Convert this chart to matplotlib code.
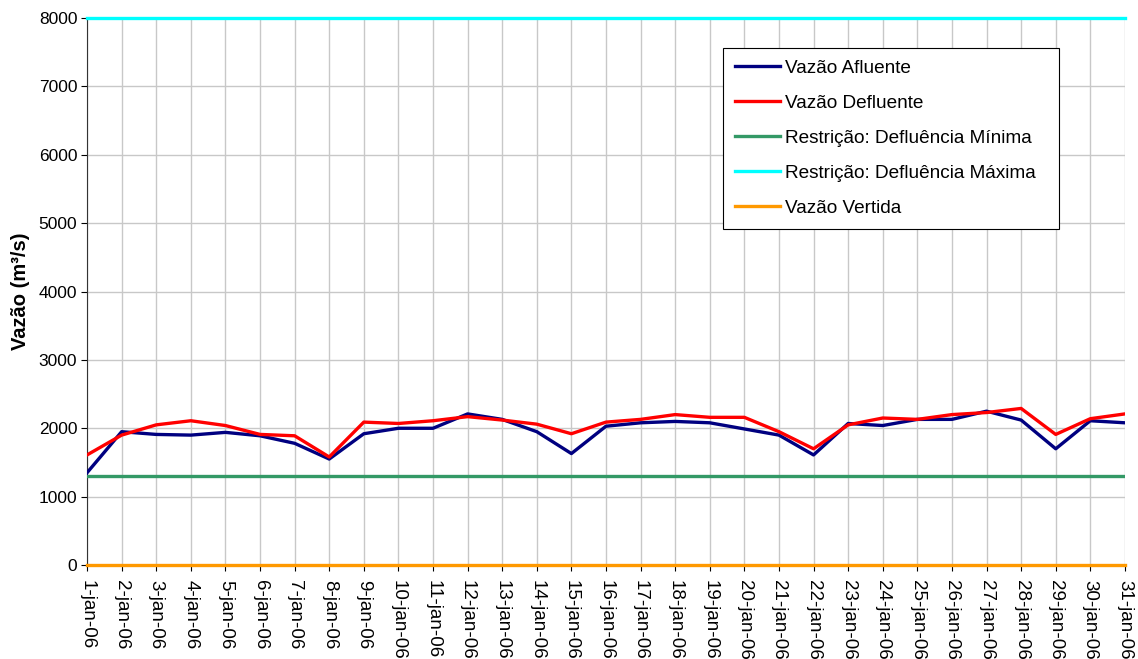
import numpy as np
import matplotlib
matplotlib.use("Agg")
import matplotlib.pyplot as plt

plt.rcParams['font.family'] = ['Liberation Sans', 'DejaVu Sans']

days = list(range(1, 32))
labels = [f"{d}-jan-06" for d in days]

afluente = [1350, 1950, 1910, 1900, 1940, 1890, 1780, 1550, 1920, 2000, 2000,
            2210, 2130, 1950, 1630, 2030, 2080, 2100, 2080, 1990, 1900,
            1610, 2070, 2040, 2130, 2130, 2250, 2120, 1700, 2110, 2080]
defluente = [1610, 1900, 2050, 2110, 2040, 1910, 1890, 1580, 2090, 2070, 2110,
             2170, 2120, 2060, 1920, 2090, 2130, 2200, 2160, 2160, 1950,
             1700, 2050, 2150, 2130, 2200, 2230, 2290, 1910, 2140, 2210]
defl_min = [1300] * 31
defl_max = [8000] * 31
vertida = [0] * 31

fig = plt.figure(figsize=(11.38, 6.59), dpi=100)
ax = fig.add_axes([0.0765, 0.1426, 0.912, 0.8301])

x = np.arange(len(days))
ax.plot(x, afluente, color="#000080", lw=2.4, label="Vazão Afluente", zorder=4)
ax.plot(x, defluente, color="#FF0000", lw=2.4, label="Vazão Defluente", zorder=5)
ax.plot(x, defl_min, color="#339966", lw=2.4, label="Restrição: Defluência Mínima", zorder=3)
ax.plot(x, defl_max, color="#00FFFF", lw=2.4, label="Restrição: Defluência Máxima", zorder=3, clip_on=False)
ax.plot(x, vertida, color="#FF9900", lw=2.4, label="Vazão Vertida", zorder=3, clip_on=False)

ax.set_xlim(0, len(days) - 1)
ax.set_ylim(0, 8000)
ax.set_yticks(range(0, 8001, 1000))
ax.set_xticks(x)
ax.set_xticklabels(labels, rotation=-90, fontsize=13.5)
ax.tick_params(axis='y', labelsize=12.5, length=4, direction='out', pad=3)
ax.tick_params(axis='x', length=4, direction='out', pad=7)
ax.grid(True, color="#c8c8c8", lw=1)
ax.set_axisbelow(True)

for s in ['top', 'right']:
    ax.spines[s].set_visible(False)
ax.spines['left'].set_color("#333333")
ax.spines['bottom'].set_color("#333333")

ax.set_ylabel("Vazão (m³/s)", fontsize=14.5, fontweight='bold', labelpad=6)

# legend box stretched to the width of the original
leg = ax.legend(loc='upper left', bbox_to_anchor=(0.6127, 0.6, 0.3237, 0.3452),
                mode='expand', fontsize=13.7,
                frameon=True, fancybox=False, edgecolor='black', framealpha=1,
                handlelength=2.4, handletextpad=0.25, labelspacing=0.93,
                borderpad=0.62, borderaxespad=0)
leg.get_frame().set_linewidth(0.8)

fig.savefig("out.png", dpi=100)
